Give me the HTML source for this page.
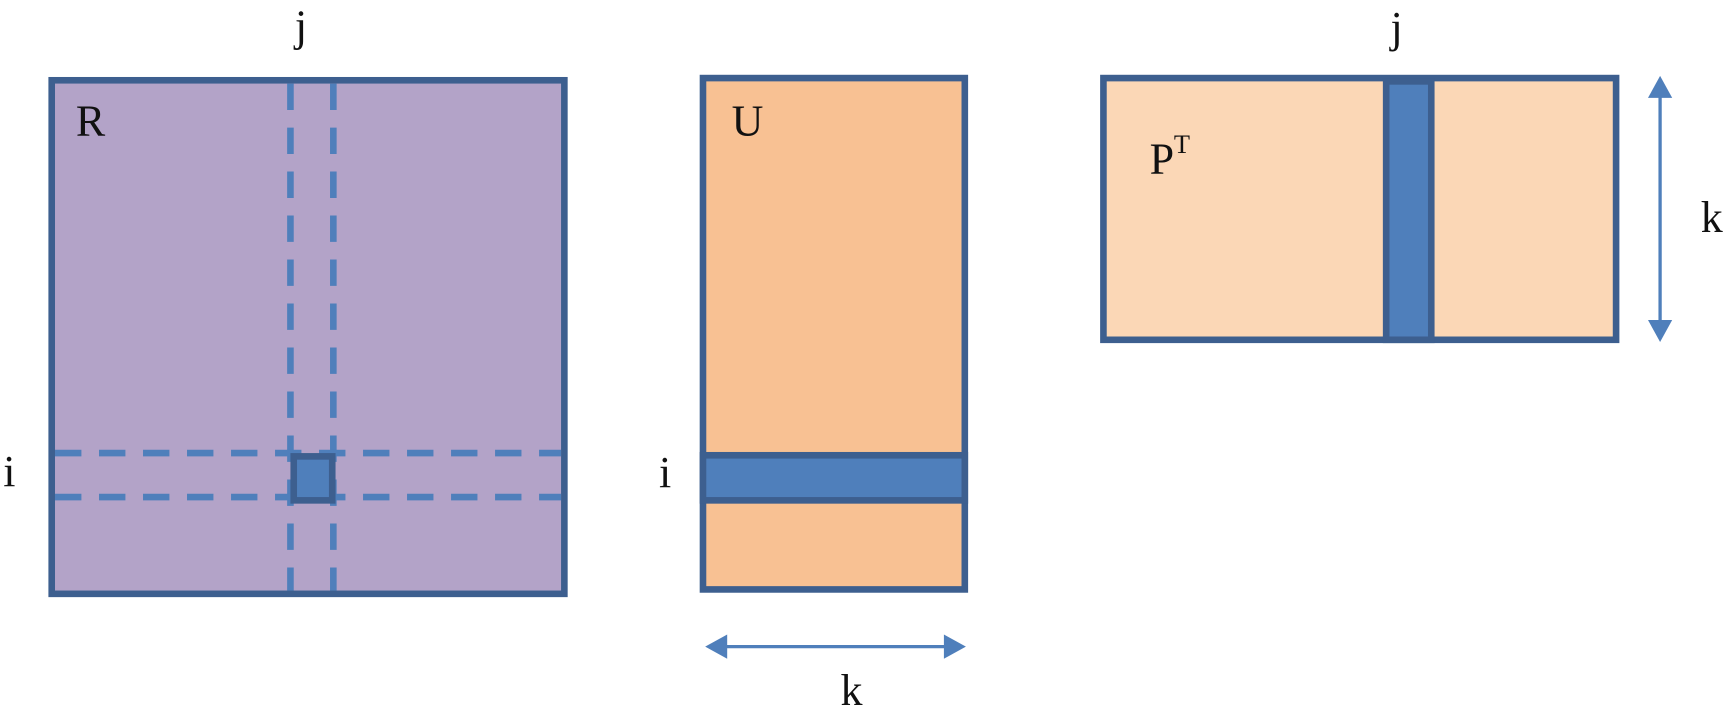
<!DOCTYPE html>
<html><head><meta charset="utf-8"><style>
html,body{margin:0;padding:0;background:#fff;}
svg{display:block;}
text{font-family:"Liberation Serif","Times New Roman",serif;fill:#111;}
</style></head><body>
<svg width="1725" height="717" viewBox="0 0 1568 652" preserveAspectRatio="none" xmlns="http://www.w3.org/2000/svg">
<g>
  <rect x="47" y="73" width="466" height="467" fill="#b3a3c8" stroke="#3d5f8f" stroke-width="6"/>
  <g stroke="#4f7fbb" stroke-width="6" stroke-dasharray="24 16" fill="none">
    <line x1="264" y1="76" x2="264" y2="537"/>
    <line x1="303" y1="76" x2="303" y2="537"/>
    <line x1="50" y1="412" x2="510" y2="412"/>
    <line x1="50" y1="452" x2="510" y2="452"/>
  </g>
  <rect x="267" y="415" width="35" height="40" fill="#4f7fbb" stroke="#3d5f8f" stroke-width="6"/>
  <text x="69" y="123" font-size="40">R</text>
  <text x="268" y="37" font-size="40">j</text>
  <text x="3" y="442" font-size="40">i</text>
</g>
<g>
  <rect x="639" y="71" width="238" height="465" fill="#f8c193" stroke="#3d5f8f" stroke-width="6"/>
  <rect x="639" y="414" width="238" height="41" fill="#4f7fbb" stroke="#3d5f8f" stroke-width="6"/>
  <text x="665" y="123" font-size="40">U</text>
  <text x="599" y="443" font-size="40">i</text>
  <line x1="660" y1="588" x2="860" y2="588" stroke="#4f7fbb" stroke-width="3"/>
  <polygon points="641,588 661,577 661,599" fill="#4f7fbb"/>
  <polygon points="878,588 858,577 858,599" fill="#4f7fbb"/>
  <text x="764" y="641" font-size="40">k</text>
</g>
<g>
  <rect x="1003" y="71" width="466" height="238" fill="#fbd7b6" stroke="#3d5f8f" stroke-width="6"/>
  <rect x="1260" y="74" width="41" height="235" fill="#4f7fbb" stroke="#3d5f8f" stroke-width="6"/>
  <text x="1045" y="158" font-size="40">P</text>
  <text x="1067" y="139" font-size="24">T</text>
  <text x="1264" y="38" font-size="40">j</text>
  <line x1="1509" y1="88" x2="1509" y2="292" stroke="#4f7fbb" stroke-width="3"/>
  <polygon points="1509,69 1498,89 1520,89" fill="#4f7fbb"/>
  <polygon points="1509,311 1498,291 1520,291" fill="#4f7fbb"/>
  <text x="1546" y="211" font-size="40">k</text>
</g>
</svg>
</body></html>
